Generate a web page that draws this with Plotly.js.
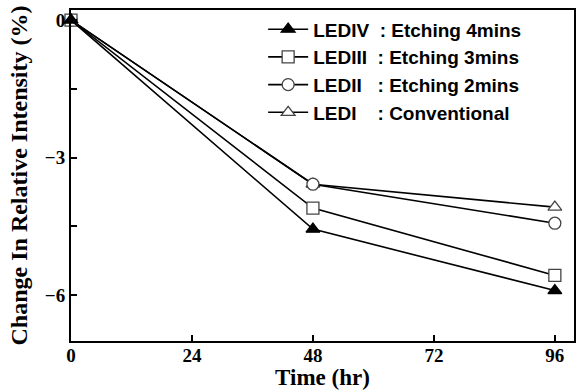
<!DOCTYPE html>
<html>
<head>
<meta charset="utf-8">
<script src="https://cdn.plot.ly/plotly-3.0.1.min.js"></script>
<style>html,body{margin:0;padding:0;background:#fff;}#chart{width:579px;height:390px;}</style>
</head>
<body>
<div id="chart"></div>
<script>
// Data
var timeHr = [0, 48, 96];
var ledIV  = [0, -4.56, -5.90];   // Etching 4mins
var ledIII = [0, -4.10, -5.57];   // Etching 3mins
var ledII  = [0, -3.58, -4.43];   // Etching 2mins
var ledI   = [0, -3.58, -4.08];   // Conventional
var seriesNames = [
  'LEDI\u00a0\u00a0\u00a0\u00a0: Conventional',
  'LEDII\u00a0\u00a0\u00a0: Etching 2mins',
  'LEDIII\u00a0\u00a0: Etching 3mins',
  'LEDIV\u00a0\u00a0: Etching 4mins'
];
var xTickVals = [0, 24, 48, 72, 96];
var yTickVals = [0, -3, -6];

function tr(y, name, symbol, fill) {
  return {
    x: timeHr, y: y, name: name, type: 'scatter', mode: 'lines+markers',
    line: {color: '#000', width: 1.6},
    marker: {symbol: symbol, size: 12, color: fill, line: {color: fill === '#000' ? '#000' : '#444', width: 1.3}},
    cliponaxis: false
  };
}

var data = [
  tr(ledI, seriesNames[0], 'triangle-up', '#fff'),
  tr(ledII, seriesNames[1], 'circle', '#fff'),
  tr(ledIII, seriesNames[2], 'square', '#fff'),
  tr(ledIV, seriesNames[3], 'triangle-up', '#000')
];

var serif = 'Liberation Serif, Times New Roman, serif';
var layout = {
  width: 579, height: 390,
  margin: {l: 71, r: 5, t: 10, b: 49},
  paper_bgcolor: '#fff', plot_bgcolor: '#fff',
  showlegend: true,
  legend: {
    x: 0.382, xanchor: 'left', y: 0.999, yanchor: 'top',
    traceorder: 'reversed',
    bgcolor: 'rgba(0,0,0,0)', borderwidth: 0,
    font: {family: 'Liberation Sans, Arial, sans-serif', size: 19, color: '#000', weight: 'bold'},
    itemwidth: 40
  },
  xaxis: {
    range: [0, 99.8], tickvals: xTickVals, ticks: 'inside', ticklen: 6, tickwidth: 2, tickcolor: '#000',
    showline: true, linecolor: '#000', linewidth: 2, mirror: true, showgrid: false, zeroline: false,
    ticklabelstandoff: -4,
    tickfont: {family: serif, size: 19, color: '#000', weight: 'bold'},
    title: {text: 'Time (hr)', standoff: 4, font: {family: serif, size: 23, color: '#000', weight: 'bold'}}
  },
  yaxis: {
    range: [-7.0, 0.22], tickvals: yTickVals, ticks: 'inside', ticklen: 6, tickwidth: 2, tickcolor: '#000',
    minor: {dtick: 1.5, ticks: 'inside', ticklen: 6, tickwidth: 2, tickcolor: '#000', showgrid: false},
    showline: true, linecolor: '#000', linewidth: 2, mirror: true, showgrid: false, zeroline: false,
    tickfont: {family: serif, size: 19, color: '#000', weight: 'bold'},
    title: {text: 'Change In Relative Intensity (%)', standoff: 10, font: {family: serif, size: 24, color: '#000', weight: 'bold'}}
  }
};

Plotly.newPlot('chart', data, layout, {displayModeBar: false, staticPlot: true});
</script>
</body>
</html>
